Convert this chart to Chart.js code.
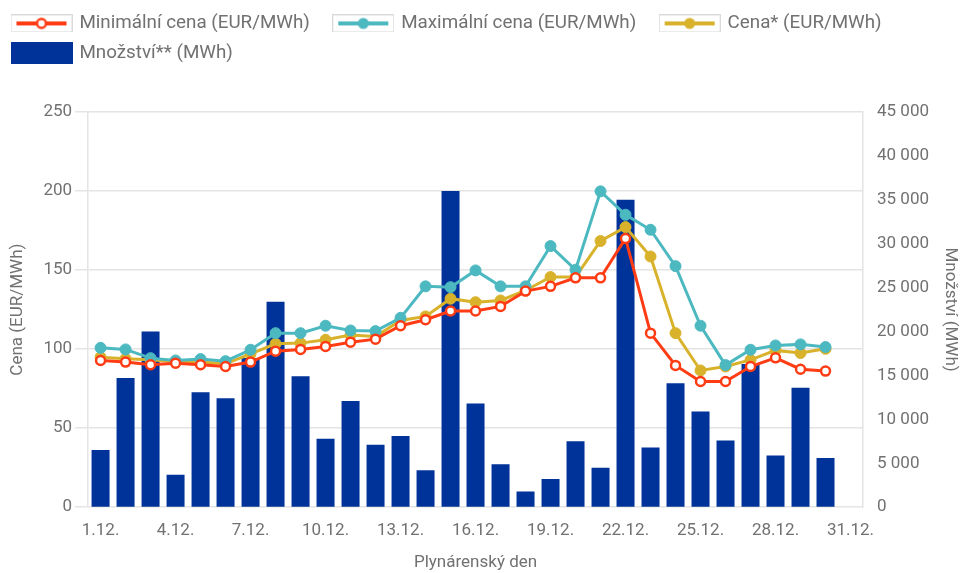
<!DOCTYPE html>
<html lang="cs">
<head>
<meta charset="UTF-8">
<title>Ceny a množství – prosinec</title>
<script src="https://cdn.jsdelivr.net/npm/chart.js"></script>
<style>
  body { margin: 0; background: #fff; }
  canvas { display: block; }
</style>
</head>
<body>
<canvas id="chart" width="960" height="573"></canvas>
<script>
// --- data ---
const days = ['1.12.', '2.12.', '3.12.', '4.12.', '5.12.', '6.12.', '7.12.', '8.12.', '9.12.', '10.12.',
  '11.12.', '12.12.', '13.12.', '14.12.', '15.12.', '16.12.', '17.12.', '18.12.', '19.12.', '20.12.',
  '21.12.', '22.12.', '23.12.', '24.12.', '25.12.', '26.12.', '27.12.', '28.12.', '29.12.', '30.12.', '31.12.'];

const minPrice = [92.8, 91.8, 90.1, 91.1, 90.1, 89.0, 91.8, 98.7, 99.8, 101.7, 104.4, 106.3, 114.8, 118.6, 124.1,
  124.1, 127.0, 136.7, 139.7, 145.1, 145.1, 170.0, 110.1, 89.7, 79.5, 79.5, 89.0, 94.5, 87.3, 86.1, null];

const maxPrice = [100.8, 99.8, 94.3, 92.8, 93.7, 92.4, 99.6, 110.1, 110.1, 114.8, 111.8, 111.4, 119.8, 139.7, 139.2,
  149.8, 139.7, 139.7, 165.2, 150.2, 199.8, 185.0, 175.5, 152.5, 114.8, 89.9, 99.6, 102.3, 103.0, 101.3, null];

const price = [94.9, 93.9, 93.2, 92.0, 91.8, 90.7, 97.0, 103.4, 103.8, 105.9, 108.9, 108.0, 118.1, 120.7, 131.9,
  129.7, 130.8, 137.1, 145.6, 145.6, 168.4, 177.2, 158.6, 110.1, 86.5, 89.0, 93.2, 99.2, 97.5, 100.2, null];

const volume = [6500, 14700, 20000, 3700, 13100, 12400, 17000, 23400, 14900, 7800, 12100, 7100, 8100, 4200, 36000,
  11800, 4900, 1800, 3200, 7500, 4500, 35000, 6800, 14100, 10900, 7600, 16300, 5900, 13600, 5600, null];

const priceTicks = { min: 0, max: 250, step: 50 };
const volumeTicks = { min: 0, max: 45000, step: 5000 };

// --- look ---
const RED = '#ff3c14', TEAL = '#4cb8c0', GOLD = '#d9b22c', BLUE = '#003399';
const TEXT = '#717171', GRID = '#e4e4e4';
Chart.defaults.font.family = 'Roboto';
Chart.defaults.color = TEXT;

// legend icons: small framed swatches like the original
function lineIcon(color, hollow) {
  const c = document.createElement('canvas');
  c.width = 62; c.height = 18;
  const g = c.getContext('2d');
  g.fillStyle = '#fff'; g.fillRect(0, 0, 62, 18);
  g.strokeStyle = '#dadada'; g.lineWidth = 1; g.strokeRect(0.5, 0.5, 61, 17);
  g.strokeStyle = color; g.lineWidth = 4;
  g.beginPath(); g.moveTo(6, 9); g.lineTo(56, 9); g.stroke();
  g.beginPath(); g.arc(31, 9, hollow ? 4.5 : 5.5, 0, Math.PI * 2);
  if (hollow) { g.fillStyle = '#fff'; g.fill(); g.lineWidth = 2.5; g.stroke(); }
  else { g.fillStyle = color; g.fill(); }
  return c;
}
function boxIcon(color) {
  const c = document.createElement('canvas');
  c.width = 62; c.height = 22;
  const g = c.getContext('2d');
  g.fillStyle = color; g.fillRect(0, 0, 62, 22);
  return c;
}
const icons = [lineIcon(RED, true), lineIcon(TEAL, false), lineIcon(GOLD, false), boxIcon(BLUE)];

// push the plot down below the legend
const legendGap = {
  id: 'legendGap',
  beforeInit(chart) {
    const fit = chart.legend.fit;
    chart.legend.fit = function () { fit.call(this); this.height += 39.4; };
  }
};

const spaced = v => String(v).replace(/\B(?=(\d{3})+(?!\d))/g, ' ');

new Chart(document.getElementById('chart'), {
  type: 'bar',
  data: {
    labels: days,
    datasets: [
      { type: 'line', label: 'Minimální cena (EUR/MWh)', data: minPrice, yAxisID: 'y',
        borderColor: RED, borderWidth: 3, backgroundColor: '#fff', tension: 0,
        pointRadius: 4.5, pointBorderWidth: 2.5, pointBackgroundColor: '#fff', pointBorderColor: RED },
      { type: 'line', label: 'Maximální cena (EUR/MWh)', data: maxPrice, yAxisID: 'y',
        borderColor: TEAL, borderWidth: 3, backgroundColor: TEAL, tension: 0,
        pointRadius: 5.5, pointBorderWidth: 1, pointBackgroundColor: TEAL, pointBorderColor: TEAL },
      { type: 'line', label: 'Cena* (EUR/MWh)', data: price, yAxisID: 'y',
        borderColor: GOLD, borderWidth: 3, backgroundColor: GOLD, tension: 0,
        pointRadius: 5.5, pointBorderWidth: 1, pointBackgroundColor: GOLD, pointBorderColor: GOLD },
      { type: 'bar', label: 'Množství** (MWh)', data: volume, yAxisID: 'y1',
        backgroundColor: BLUE, borderWidth: 0 }
    ]
  },
  options: {
    responsive: false,
    animation: false,
    layout: { padding: { top: 3, left: 2, right: 0, bottom: 0 } },
    plugins: {
      tooltip: { enabled: false },
      legend: {
        position: 'top',
        align: 'start',
        labels: {
          usePointStyle: true,
          pointStyleWidth: 57,
          padding: 11,
          color: TEXT,
          font: { size: 18.8 },
          generateLabels(chart) {
            const items = Chart.defaults.plugins.legend.labels.generateLabels(chart);
            items.forEach((it, i) => {
              it.pointStyle = icons[i];
              if (i < 2) it.text += '   ';
            });
            return items;
          }
        }
      }
    },
    scales: {
      x: {
        offset: true,
        grid: { drawOnChartArea: false, drawTicks: true, tickLength: 10, color: 'rgba(0,0,0,0)' },
        border: { display: false },
        ticks: {
          autoSkip: false, maxRotation: 0, padding: 3, font: { size: 17 },
          callback: (v, i) => (i % 3 === 0 ? days[i] : '')
        },
        title: { display: true, text: 'Plynárenský den', font: { size: 17 }, padding: { top: 9, bottom: 0 } }
      },
      y: {
        position: 'left',
        min: priceTicks.min, max: priceTicks.max,
        ticks: { stepSize: priceTicks.step, padding: 3, font: { size: 17 } },
        grid: { color: GRID, lineWidth: 1.5, tickLength: 13 },
        border: { color: GRID, width: 1.5 },
        title: { display: true, text: 'Cena (EUR/MWh)', font: { size: 17 }, padding: { top: 6, bottom: 12 } }
      },
      y1: {
        position: 'right',
        min: volumeTicks.min, max: volumeTicks.max,
        ticks: { stepSize: volumeTicks.step, padding: 3, font: { size: 17 }, callback: v => spaced(v) },
        grid: { drawOnChartArea: false, drawTicks: true, tickLength: 11, color: 'rgba(0,0,0,0)' },
        border: { color: GRID, width: 1.5 },
        title: { display: true, text: 'Množství (MWh)', font: { size: 17 }, padding: { top: 0, bottom: 7.6 } }
      }
    }
  },
  plugins: [legendGap]
});
</script>
</body>
</html>
